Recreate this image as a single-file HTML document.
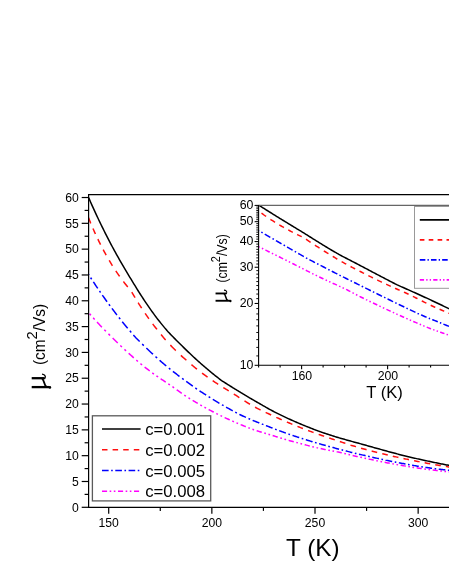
<!DOCTYPE html><html><head><meta charset="utf-8"><title>mobility</title>
<style>html,body{margin:0;padding:0;background:#fff;}svg{display:block;}text{font-family:"Liberation Sans",sans-serif;fill:#000;filter:grayscale(1);}</style></head><body>
<svg width="449" height="580" viewBox="0 0 449 580">
<rect width="449" height="580" fill="#fff"/>
<g fill="none" stroke-width="1.50" stroke-linejoin="round">
<path d="M89.52,313.72 L89.63,313.84 L90.66,315.01 L90.94,315.32 M93.22,317.87 L93.76,318.47 L94.66,319.47 M97.04,322.07 L97.88,322.99 L98.92,324.10 L99.95,325.19 L100.98,326.26 L101.85,327.17 M104.35,329.72 L105.10,330.48 L105.93,331.32 M108.46,333.87 L109.23,334.63 L110.06,335.46 M112.66,338.02 L113.36,338.70 L114.39,339.72 L115.42,340.74 L116.45,341.74 L117.48,342.75 L117.76,343.02 M120.31,345.47 L120.58,345.72 L121.61,346.70 L121.91,346.99 M124.46,349.38 L124.70,349.60 L125.73,350.56 L126.06,350.86 M128.66,353.24 L128.83,353.39 L129.86,354.32 L130.89,355.25 L131.92,356.18 L132.95,357.11 L133.76,357.84 M136.31,360.11 L137.08,360.78 L137.91,361.50 M140.46,363.65 L141.21,364.25 L142.06,364.95 M144.66,367.03 L145.33,367.56 L146.36,368.37 L147.40,369.17 L148.43,369.96 L149.46,370.75 L149.76,370.98 M152.31,372.89 L152.55,373.07 L153.58,373.82 L153.91,374.06 M156.46,375.87 L156.68,376.02 L157.71,376.73 L158.06,376.97 M160.66,378.74 L160.81,378.83 L161.84,379.51 L162.87,380.20 L163.90,380.91 L164.93,381.62 L165.76,382.19 M168.31,383.91 L169.06,384.41 L169.91,384.98 M172.46,386.71 L173.18,387.23 L174.06,387.88 M176.66,389.77 L177.31,390.23 L178.34,390.95 L179.37,391.67 L180.40,392.39 L181.44,393.11 L181.76,393.33 M184.31,395.11 L184.53,395.26 L185.56,395.94 L185.91,396.16 M188.46,397.79 L188.66,397.91 L189.69,398.56 L190.06,398.80 M192.66,400.39 L192.78,400.47 L193.81,401.09 L194.84,401.71 L195.88,402.32 L196.91,402.93 L197.76,403.43 M200.31,404.90 L201.03,405.31 L201.91,405.81 M204.46,407.24 L205.16,407.62 L206.06,408.12 M208.66,409.52 L209.29,409.86 L210.32,410.40 L211.35,410.95 L212.38,411.49 L213.41,412.02 L213.76,412.20 M216.31,413.50 L216.51,413.60 L217.54,414.12 L217.91,414.30 M220.46,415.56 L220.63,415.64 L221.66,416.14 L222.06,416.33 M224.66,417.57 L224.76,417.61 L225.79,418.10 L226.82,418.57 L227.85,419.05 L228.88,419.52 L229.76,419.92 M232.31,421.06 L233.01,421.37 L233.91,421.77 M236.46,422.87 L237.14,423.16 L238.06,423.55 M240.66,424.64 L241.26,424.89 L242.29,425.31 L243.33,425.73 L244.36,426.15 L245.39,426.56 L245.76,426.71 M248.31,427.70 L248.48,427.77 L249.51,428.16 L249.91,428.31 M252.46,429.27 L252.61,429.32 L253.64,429.69 L254.06,429.83 M256.66,430.68 L256.73,430.70 L257.77,431.02 L258.80,431.35 L259.83,431.67 L260.86,432.00 L261.76,432.27 M264.31,433.04 L264.99,433.24 L265.91,433.52 M268.46,434.28 L269.11,434.47 L270.06,434.76 M272.66,435.57 L273.24,435.75 L274.27,436.07 L275.30,436.40 L276.33,436.71 L277.36,437.03 L277.76,437.15 M280.31,437.93 L280.46,437.97 L281.49,438.28 L281.91,438.40 M284.46,439.15 L284.59,439.19 L285.62,439.49 L286.06,439.62 M288.66,440.36 L288.71,440.37 L289.74,440.66 L290.77,440.95 L291.81,441.23 L292.84,441.52 L293.76,441.77 M296.31,442.46 L296.96,442.64 L297.91,442.89 M300.46,443.58 L301.09,443.75 L302.06,444.01 M304.66,444.70 L305.22,444.84 L306.25,445.11 L307.28,445.38 L308.31,445.64 L309.34,445.91 L309.76,446.01 M312.31,446.64 L312.44,446.67 L313.47,446.92 L313.91,447.02 M316.46,447.61 L316.56,447.64 L317.59,447.87 L318.06,447.97 M320.66,448.54 L320.69,448.55 L321.72,448.77 L322.75,448.99 L323.78,449.21 L324.81,449.43 L325.76,449.63 M328.31,450.15 L328.94,450.28 L329.91,450.47 M332.46,450.98 L333.07,451.09 L334.06,451.29 M336.66,451.78 L337.19,451.88 L338.22,452.07 L339.25,452.26 L340.29,452.49 L341.32,452.75 L341.76,452.86 M344.31,453.47 L344.41,453.49 L345.44,453.73 L345.91,453.84 M348.46,454.44 L348.54,454.45 L349.57,454.70 L350.06,454.82 M352.66,455.44 L353.70,455.69 L354.73,455.93 L355.76,456.17 L356.79,456.41 L357.76,456.63 M360.31,457.21 L360.92,457.35 L361.91,457.57 M364.46,458.13 L365.04,458.26 L366.06,458.48 M368.66,459.04 L369.17,459.15 L370.20,459.37 L371.23,459.58 L372.26,459.80 L373.29,460.01 L373.76,460.11 M376.31,460.64 L376.39,460.65 L377.42,460.87 L377.91,460.97 M380.46,461.48 L380.51,461.49 L381.55,461.70 L382.06,461.80 M384.66,462.32 L385.67,462.51 L386.70,462.71 L387.74,462.91 L388.77,463.11 L389.76,463.30 M392.31,463.77 L392.89,463.88 L393.91,464.06 M396.46,464.52 L397.02,464.62 L398.05,464.81 L398.06,464.81 M400.66,465.27 L401.14,465.35 L402.18,465.53 L403.21,465.71 L404.24,465.88 L405.27,466.06 L405.76,466.14 M408.31,466.56 L408.37,466.57 L409.40,466.74 L409.91,466.82 M412.46,467.22 L412.49,467.23 L413.52,467.39 L414.06,467.47 M416.66,467.86 L417.65,468.00 L418.68,468.15 L419.71,468.30 L420.74,468.45 L421.76,468.59 M424.31,468.94 L424.87,469.02 L425.90,469.16 L425.91,469.16 M428.46,469.50 L429.00,469.57 L430.03,469.70 L430.06,469.71 M432.66,470.04 L433.12,470.10 L434.15,470.23 L435.18,470.36 L436.22,470.48 L437.25,470.61 L437.76,470.67 M440.31,470.97 L440.34,470.97 L441.37,471.09 L441.91,471.15 M444.46,471.42 L444.47,471.42 L445.50,471.52 L446.06,471.58 M448.66,471.84 L449.62,471.94 L450.66,472.06 L451.69,472.18" stroke="#ff00ff" stroke-linecap="butt"/>
<path d="M88.60,274.50 L89.00,275.13 M90.63,277.66 L90.66,277.72 L91.67,279.26 M93.32,281.79 L93.76,282.46 L94.79,284.01 L95.82,285.56 L96.85,287.10 L97.75,288.42 M99.47,290.95 L99.95,291.64 L100.58,292.55 M102.34,295.08 L103.04,296.09 L104.07,297.55 L105.10,299.00 L106.14,300.45 L107.05,301.71 M108.89,304.24 L109.23,304.71 L110.06,305.84 M111.93,308.37 L112.32,308.90 L113.36,310.27 L114.39,311.64 L115.42,312.99 L116.45,314.34 L116.96,315.00 M118.94,317.53 L119.55,318.30 L120.20,319.13 M122.23,321.66 L122.64,322.17 L123.67,323.44 L124.70,324.70 L125.73,325.95 L126.77,327.19 L127.69,328.29 M129.83,330.82 L129.86,330.86 L130.89,332.07 L131.19,332.42 M133.38,334.95 L133.99,335.64 L135.02,336.81 L136.05,337.92 L137.08,338.97 L138.11,340.01 L139.14,341.03 L139.68,341.56 M142.21,344.06 L142.24,344.08 L143.27,345.09 L143.81,345.62 M146.34,348.06 L146.36,348.08 L147.40,349.07 L148.43,350.04 L149.46,351.02 L150.49,351.98 L151.52,352.94 L152.55,353.89 L152.97,354.28 M155.50,356.59 L155.65,356.72 L156.68,357.66 L157.10,358.04 M159.63,360.29 L159.77,360.42 L160.81,361.33 L161.84,362.23 L162.87,363.12 L163.90,364.00 L164.93,364.87 L165.96,365.73 L166.26,365.98 M168.79,368.06 L169.06,368.27 L170.09,369.10 L170.39,369.35 M172.92,371.36 L173.18,371.57 L174.21,372.38 L175.25,373.18 L176.28,373.97 L177.31,374.75 L178.34,375.53 L179.37,376.31 L179.55,376.45 M182.08,378.34 L182.47,378.63 L183.50,379.40 L183.68,379.54 M186.21,381.42 L186.59,381.70 L187.62,382.45 L188.66,383.20 L189.69,383.95 L190.72,384.69 L191.75,385.42 L192.78,386.15 L192.84,386.19 M195.37,387.95 L195.88,388.30 L196.91,389.01 L196.97,389.05 M199.50,390.76 L200.00,391.10 L201.03,391.79 L202.06,392.47 L203.10,393.15 L204.13,393.82 L205.16,394.49 L206.13,395.12 M208.66,396.73 L209.29,397.13 L210.26,397.74 M212.79,399.32 L213.41,399.70 L214.44,400.33 L215.47,400.95 L216.51,401.58 L217.54,402.19 L218.57,402.81 L219.42,403.31 M221.95,404.79 L222.70,405.22 L223.55,405.72 M226.08,407.15 L226.82,407.57 L227.85,408.14 L228.88,408.71 L229.92,409.28 L230.95,409.84 L231.98,410.41 L232.71,410.80 M235.24,412.15 L236.10,412.61 L236.84,413.00 M239.37,414.31 L240.23,414.75 L241.26,415.25 L242.29,415.73 L243.33,416.20 L244.36,416.67 L245.39,417.14 L246.00,417.41 M248.53,418.54 L249.51,418.97 L250.13,419.24 M252.66,420.34 L253.64,420.74 L254.67,421.15 L255.70,421.55 L256.73,421.94 L257.77,422.34 L258.80,422.74 L259.29,422.94 M261.82,423.95 L261.89,423.98 L262.92,424.39 L263.42,424.59 M265.95,425.59 L266.02,425.61 L267.05,426.02 L268.08,426.42 L269.11,426.82 L270.14,427.22 L271.18,427.62 L272.21,428.01 L272.58,428.16 M275.11,429.12 L275.30,429.19 L276.33,429.58 L276.71,429.72 M279.24,430.67 L279.43,430.74 L280.46,431.12 L281.49,431.50 L282.52,431.87 L283.55,432.25 L284.59,432.62 L285.62,432.99 L285.87,433.08 M288.40,433.98 L288.71,434.09 L289.74,434.45 L290.00,434.54 M292.53,435.41 L292.84,435.51 L293.87,435.86 L294.90,436.21 L295.93,436.55 L296.96,436.89 L297.99,437.23 L299.03,437.56 L299.16,437.61 M301.69,438.42 L302.12,438.55 L303.15,438.88 L303.29,438.92 M305.82,439.71 L306.25,439.84 L307.28,440.16 L308.31,440.47 L309.34,440.79 L310.37,441.10 L311.40,441.41 L312.44,441.72 L312.45,441.73 M314.98,442.48 L315.53,442.64 L316.56,442.94 L316.58,442.95 M319.11,443.69 L319.66,443.84 L320.69,444.14 L321.72,444.44 L322.75,444.73 L323.78,445.02 L324.81,445.31 L325.74,445.57 M328.27,446.27 L328.94,446.46 L329.87,446.71 M332.40,447.40 L333.07,447.58 L334.10,447.85 L335.13,448.13 L336.16,448.40 L337.19,448.67 L338.22,448.94 L339.03,449.15 M341.56,449.81 L342.35,450.02 L343.16,450.23 M345.69,450.90 L346.48,451.10 L347.51,451.37 L348.54,451.63 L349.57,451.89 L350.60,452.15 L351.63,452.41 L352.32,452.58 M354.85,453.20 L355.76,453.41 L356.45,453.58 M358.98,454.18 L359.88,454.40 L360.92,454.64 L361.95,454.88 L362.98,455.12 L364.01,455.35 L365.04,455.59 L365.61,455.72 M368.14,456.30 L369.17,456.53 L369.74,456.66 M372.27,457.22 L373.29,457.45 L374.33,457.68 L375.36,457.91 L376.39,458.14 L377.42,458.36 L378.45,458.59 L378.90,458.69 M381.43,459.24 L381.55,459.26 L382.58,459.49 L383.03,459.59 M385.56,460.12 L385.67,460.15 L386.70,460.36 L387.74,460.58 L388.77,460.79 L389.80,461.00 L390.83,461.21 L391.86,461.42 L392.19,461.49 M394.72,461.99 L394.96,462.03 L395.99,462.23 L396.32,462.30 M398.85,462.78 L399.08,462.83 L400.11,463.02 L401.14,463.22 L402.18,463.41 L403.21,463.61 L404.24,463.80 L405.27,463.99 L405.48,464.03 M408.01,464.48 L408.37,464.55 L409.40,464.73 L409.61,464.77 M412.14,465.22 L412.49,465.28 L413.52,465.45 L414.55,465.63 L415.59,465.81 L416.62,465.98 L417.65,466.15 L418.68,466.32 L418.77,466.33 M421.30,466.73 L421.77,466.80 L422.81,466.96 L422.90,466.97 M425.43,467.35 L425.90,467.41 L426.93,467.56 L427.96,467.71 L429.00,467.85 L430.03,467.99 L431.06,468.14 L432.06,468.27 M434.59,468.61 L435.18,468.69 L436.19,468.82 M438.72,469.15 L439.31,469.23 L440.34,469.36 L441.37,469.49 L442.40,469.61 L443.44,469.73 L444.47,469.85 L445.35,469.95 M447.88,470.23 L448.59,470.31 L449.48,470.42" stroke="#0000ff" stroke-linecap="butt"/>
<path d="M88.60,217.90 L89.63,220.46 L90.66,223.01 L90.83,223.40 M92.98,228.50 L93.76,230.29 L94.79,232.58 L95.44,234.00 M97.84,239.10 L97.88,239.19 L98.92,241.30 L99.95,243.38 L100.57,244.60 M103.22,249.70 L104.07,251.30 L105.10,253.20 L106.14,255.06 L106.22,255.20 M109.14,260.30 L109.23,260.46 L110.26,262.20 L111.29,263.90 L112.32,265.56 L112.48,265.80 M115.82,270.90 L116.45,271.84 L117.48,273.34 L118.51,274.81 L119.55,276.27 L119.64,276.40 M123.41,281.50 L123.67,281.85 L124.70,283.19 L125.73,284.51 L126.77,285.81 L127.73,287.00 M131.78,292.10 L131.92,292.31 L132.95,294.10 L133.99,295.86 L135.02,297.59 L135.02,297.60 M138.15,302.70 L139.14,304.28 L140.18,305.89 L141.21,307.49 L141.68,308.20 M145.09,313.30 L145.33,313.66 L146.36,315.15 L147.40,316.63 L148.43,318.08 L148.94,318.80 M152.69,323.90 L153.58,325.08 L154.62,326.43 L155.65,327.76 L156.68,329.08 L156.94,329.40 M161.06,334.50 L161.84,335.48 L162.87,336.78 L163.90,338.02 L164.93,339.19 L165.66,340.00 M170.37,345.10 L171.12,345.89 L172.15,346.96 L173.18,348.01 L174.21,349.05 L175.25,350.08 L175.77,350.59 M180.87,355.42 L181.44,355.93 L182.47,356.86 L183.50,357.75 L184.53,358.63 L185.56,359.54 L186.37,360.26 M191.47,364.66 L191.75,364.90 L192.78,365.76 L193.81,366.61 L194.84,367.46 L195.88,368.29 L196.91,369.12 L196.97,369.17 M202.07,373.13 L203.10,373.90 L204.13,374.66 L205.16,375.42 L206.19,376.17 L207.22,376.91 L207.57,377.15 M212.67,380.69 L213.41,381.19 L214.44,381.88 L215.47,382.57 L216.51,383.24 L217.54,383.91 L218.17,384.32 M223.27,387.53 L223.73,387.81 L224.76,388.45 L225.79,389.07 L226.82,389.70 L227.85,390.32 L228.77,390.86 M233.87,393.98 L234.04,394.10 L235.07,394.79 L236.10,395.48 L237.14,396.17 L238.17,396.85 L239.20,397.53 L239.37,397.64 M244.47,400.91 L245.39,401.49 L246.42,402.13 L247.45,402.76 L248.48,403.39 L249.51,404.00 L249.97,404.27 M255.07,407.17 L255.70,407.51 L256.73,408.05 L257.77,408.58 L258.80,409.09 L259.83,409.61 L260.57,409.98 M265.67,412.42 L266.02,412.58 L267.05,413.06 L268.08,413.54 L269.11,414.01 L270.14,414.49 L271.17,414.97 M276.27,417.32 L276.33,417.35 L277.36,417.82 L278.40,418.29 L279.43,418.75 L280.46,419.22 L281.49,419.67 L281.77,419.80 M286.87,422.02 L287.68,422.36 L288.71,422.80 L289.74,423.24 L290.77,423.67 L291.81,424.10 L292.37,424.33 M297.47,426.40 L297.99,426.61 L299.03,427.02 L300.06,427.42 L301.09,427.83 L302.12,428.23 L302.97,428.55 M308.07,430.49 L308.31,430.58 L309.34,430.96 L310.37,431.34 L311.40,431.72 L312.44,432.10 L313.47,432.47 L313.57,432.51 M318.67,434.34 L319.66,434.69 L320.69,435.06 L321.72,435.42 L322.75,435.78 L323.78,436.14 L324.17,436.27 M329.27,438.02 L329.97,438.26 L331.00,438.61 L332.03,438.95 L333.07,439.30 L334.10,439.64 L334.77,439.86 M339.87,441.53 L340.29,441.67 L341.32,442.01 L342.35,442.36 L343.38,442.72 L344.41,443.07 L345.37,443.40 M350.47,445.05 L350.60,445.10 L351.63,445.41 L352.66,445.72 L353.70,446.03 L354.73,446.34 L355.76,446.65 L355.97,446.71 M361.07,448.18 L361.95,448.43 L362.98,448.72 L364.01,449.00 L365.04,449.29 L366.07,449.57 L366.57,449.70 M371.67,451.04 L372.26,451.20 L373.29,451.46 L374.33,451.72 L375.36,451.98 L376.39,452.24 L377.17,452.44 M382.27,453.69 L382.58,453.76 L383.61,454.01 L384.64,454.26 L385.67,454.50 L386.70,454.75 L387.74,454.99 L387.77,455.00 M392.87,456.17 L392.89,456.18 L393.92,456.41 L394.96,456.65 L395.99,456.88 L397.02,457.11 L398.05,457.34 L398.37,457.41 M403.47,458.51 L404.24,458.68 L405.27,458.90 L406.30,459.12 L407.33,459.33 L408.37,459.55 L408.97,459.67 M414.07,460.71 L414.55,460.81 L415.59,461.02 L416.62,461.22 L417.65,461.43 L418.68,461.63 L419.57,461.80 M424.67,462.78 L424.87,462.82 L425.90,463.01 L426.93,463.21 L427.96,463.40 L429.00,463.59 L430.03,463.78 L430.17,463.80 M435.27,464.72 L436.22,464.89 L437.25,465.07 L438.28,465.25 L439.31,465.42 L440.34,465.60 L440.77,465.67 M445.87,466.50 L446.53,466.61 L447.56,466.77 L448.59,466.94 L449.62,467.11 L450.66,467.30 L451.37,467.42" stroke="#ff1010" stroke-linecap="butt"/>
<path d="M88.60,197.54 L89.63,199.91 L90.66,202.26 L91.69,204.59 L92.73,206.90 L93.76,209.17 L94.79,211.41 L95.82,213.64 L96.85,215.85 L97.88,218.03 L98.92,220.20 L99.95,222.35 L100.98,224.49 L102.01,226.60 L103.04,228.70 L104.07,230.77 L105.10,232.83 L106.14,234.88 L107.17,236.90 L108.20,238.91 L109.23,240.90 L110.26,242.86 L111.29,244.81 L112.32,246.74 L113.36,248.65 L114.39,250.54 L115.42,252.42 L116.45,254.28 L117.48,256.12 L118.51,257.95 L119.55,259.76 L120.58,261.56 L121.61,263.37 L122.64,265.16 L123.67,266.94 L124.70,268.70 L125.73,270.44 L126.77,272.17 L127.80,273.88 L128.83,275.59 L129.86,277.28 L130.89,278.97 L131.92,280.65 L132.95,282.33 L133.99,284.02 L135.02,285.71 L136.05,287.40 L137.08,289.08 L138.11,290.75 L139.14,292.40 L140.18,294.02 L141.21,295.62 L142.24,297.20 L143.27,298.76 L144.30,300.32 L145.33,301.86 L146.36,303.39 L147.40,304.90 L148.43,306.40 L149.46,307.88 L150.49,309.35 L151.52,310.81 L152.55,312.25 L153.58,313.67 L154.62,315.08 L155.65,316.47 L156.68,317.84 L157.71,319.19 L158.74,320.52 L159.77,321.82 L160.81,323.10 L161.84,324.37 L162.87,325.63 L163.90,326.87 L164.93,328.11 L165.96,329.33 L166.99,330.56 L168.03,331.72 L169.06,332.80 L170.09,333.88 L171.12,334.95 L172.15,336.01 L173.18,337.06 L174.21,338.10 L175.25,339.14 L176.28,340.18 L177.31,341.21 L178.34,342.24 L179.37,343.26 L180.40,344.28 L181.44,345.31 L182.47,346.33 L183.50,347.34 L184.53,348.35 L185.56,349.36 L186.59,350.36 L187.62,351.35 L188.66,352.34 L189.69,353.33 L190.72,354.30 L191.75,355.28 L192.78,356.24 L193.81,357.20 L194.84,358.15 L195.88,359.10 L196.91,360.04 L197.94,360.97 L198.97,361.90 L200.00,362.81 L201.03,363.73 L202.06,364.63 L203.10,365.53 L204.13,366.42 L205.16,367.30 L206.19,368.18 L207.22,369.05 L208.25,369.92 L209.29,370.79 L210.32,371.65 L211.35,372.50 L212.38,373.34 L213.41,374.18 L214.44,375.01 L215.47,375.84 L216.51,376.65 L217.54,377.46 L218.57,378.26 L219.60,379.05 L220.63,379.84 L221.66,380.58 L222.70,381.27 L223.73,381.94 L224.76,382.60 L225.79,383.25 L226.82,383.90 L227.85,384.55 L228.88,385.20 L229.92,385.85 L230.95,386.50 L231.98,387.15 L233.01,387.79 L234.04,388.43 L235.07,389.07 L236.10,389.70 L237.14,390.33 L238.17,390.96 L239.20,391.59 L240.23,392.21 L241.26,392.84 L242.29,393.46 L243.33,394.08 L244.36,394.70 L245.39,395.32 L246.42,395.94 L247.45,396.56 L248.48,397.17 L249.51,397.79 L250.55,398.40 L251.58,399.01 L252.61,399.61 L253.64,400.21 L254.67,400.82 L255.70,401.41 L256.73,402.01 L257.77,402.60 L258.80,403.19 L259.83,403.77 L260.86,404.35 L261.89,404.94 L262.92,405.54 L263.96,406.13 L264.99,406.72 L266.02,407.31 L267.05,407.90 L268.08,408.48 L269.11,409.06 L270.14,409.63 L271.18,410.18 L272.21,410.73 L273.24,411.26 L274.27,411.80 L275.30,412.32 L276.33,412.85 L277.36,413.37 L278.40,413.88 L279.43,414.40 L280.46,414.90 L281.49,415.41 L282.52,415.91 L283.55,416.40 L284.59,416.90 L285.62,417.38 L286.65,417.87 L287.68,418.35 L288.71,418.82 L289.74,419.29 L290.77,419.76 L291.81,420.22 L292.84,420.68 L293.87,421.13 L294.90,421.58 L295.93,422.03 L296.96,422.47 L297.99,422.91 L299.03,423.35 L300.06,423.78 L301.09,424.21 L302.12,424.64 L303.15,425.07 L304.18,425.49 L305.22,425.91 L306.25,426.33 L307.28,426.75 L308.31,427.16 L309.34,427.57 L310.37,427.98 L311.40,428.39 L312.44,428.79 L313.47,429.19 L314.50,429.59 L315.53,429.98 L316.56,430.38 L317.59,430.77 L318.62,431.15 L319.66,431.52 L320.69,431.89 L321.72,432.25 L322.75,432.61 L323.78,432.96 L324.81,433.31 L325.85,433.65 L326.88,433.99 L327.91,434.33 L328.94,434.66 L329.97,435.00 L331.00,435.33 L332.03,435.66 L333.07,435.99 L334.10,436.31 L335.13,436.63 L336.16,436.95 L337.19,437.26 L338.22,437.57 L339.25,437.87 L340.29,438.17 L341.32,438.47 L342.35,438.76 L343.38,439.05 L344.41,439.34 L345.44,439.63 L346.48,439.92 L347.51,440.21 L348.54,440.50 L349.57,440.79 L350.60,441.08 L351.63,441.37 L352.66,441.65 L353.70,441.93 L354.73,442.21 L355.76,442.49 L356.79,442.77 L357.82,443.04 L358.85,443.32 L359.88,443.60 L360.92,443.88 L361.95,444.17 L362.98,444.46 L364.01,444.75 L365.04,445.04 L366.07,445.34 L367.11,445.63 L368.14,445.93 L369.17,446.22 L370.20,446.51 L371.23,446.80 L372.26,447.09 L373.29,447.38 L374.33,447.67 L375.36,447.96 L376.39,448.24 L377.42,448.52 L378.45,448.80 L379.48,449.09 L380.51,449.37 L381.55,449.65 L382.58,449.93 L383.61,450.22 L384.64,450.51 L385.67,450.80 L386.70,451.09 L387.74,451.38 L388.77,451.66 L389.80,451.95 L390.83,452.23 L391.86,452.51 L392.89,452.79 L393.92,453.06 L394.96,453.33 L395.99,453.60 L397.02,453.87 L398.05,454.14 L399.08,454.40 L400.11,454.66 L401.14,454.92 L402.18,455.18 L403.21,455.44 L404.24,455.70 L405.27,455.95 L406.30,456.20 L407.33,456.45 L408.37,456.70 L409.40,456.95 L410.43,457.19 L411.46,457.44 L412.49,457.68 L413.52,457.92 L414.55,458.16 L415.59,458.39 L416.62,458.63 L417.65,458.86 L418.68,459.09 L419.71,459.32 L420.74,459.55 L421.77,459.78 L422.81,460.01 L423.84,460.23 L424.87,460.45 L425.90,460.67 L426.93,460.89 L427.96,461.11 L429.00,461.33 L430.03,461.55 L431.06,461.76 L432.09,461.98 L433.12,462.20 L434.15,462.42 L435.18,462.63 L436.22,462.85 L437.25,463.06 L438.28,463.27 L439.31,463.48 L440.34,463.69 L441.37,463.89 L442.40,464.09 L443.44,464.29 L444.47,464.49 L445.50,464.69 L446.53,464.89 L447.56,465.08 L448.59,465.28 L449.62,465.46 L450.66,465.65 L451.69,465.83" stroke="#000000"/>
</g>
<g stroke="#000" stroke-width="1.2" fill="none">
<path d="M88.60,194.00 V507.30 H460"/>
<path d="M88.00,194.60 H460"/>
<path d="M88.60,507.30 H81.70"/>
<path d="M88.60,481.49 H81.70"/>
<path d="M88.60,455.67 H81.70"/>
<path d="M88.60,429.86 H81.70"/>
<path d="M88.60,404.04 H81.70"/>
<path d="M88.60,378.23 H81.70"/>
<path d="M88.60,352.41 H81.70"/>
<path d="M88.60,326.60 H81.70"/>
<path d="M88.60,300.78 H81.70"/>
<path d="M88.60,274.97 H81.70"/>
<path d="M88.60,249.15 H81.70"/>
<path d="M88.60,223.33 H81.70"/>
<path d="M88.60,197.52 H81.70"/>
<path d="M88.60,494.39 H84.60"/>
<path d="M88.60,468.58 H84.60"/>
<path d="M88.60,442.76 H84.60"/>
<path d="M88.60,416.95 H84.60"/>
<path d="M88.60,391.13 H84.60"/>
<path d="M88.60,365.32 H84.60"/>
<path d="M88.60,339.50 H84.60"/>
<path d="M88.60,313.69 H84.60"/>
<path d="M88.60,287.87 H84.60"/>
<path d="M88.60,262.06 H84.60"/>
<path d="M88.60,236.24 H84.60"/>
<path d="M88.60,210.43 H84.60"/>
<path d="M108.70,507.30 V513.70"/>
<path d="M160.28,507.30 V510.90"/>
<path d="M211.85,507.30 V513.70"/>
<path d="M263.43,507.30 V510.90"/>
<path d="M315.00,507.30 V513.70"/>
<path d="M366.57,507.30 V510.90"/>
<path d="M418.15,507.30 V513.70"/>
</g>
<g font-size="12.2px">
<text x="78.8" y="511.50" text-anchor="end">0</text>
<text x="78.8" y="485.69" text-anchor="end">5</text>
<text x="78.8" y="459.87" text-anchor="end">10</text>
<text x="78.8" y="434.06" text-anchor="end">15</text>
<text x="78.8" y="408.24" text-anchor="end">20</text>
<text x="78.8" y="382.43" text-anchor="end">25</text>
<text x="78.8" y="356.61" text-anchor="end">30</text>
<text x="78.8" y="330.80" text-anchor="end">35</text>
<text x="78.8" y="304.98" text-anchor="end">40</text>
<text x="78.8" y="279.17" text-anchor="end">45</text>
<text x="78.8" y="253.35" text-anchor="end">50</text>
<text x="78.8" y="227.53" text-anchor="end">55</text>
<text x="78.8" y="201.72" text-anchor="end">60</text>
<text x="108.70" y="527.4" text-anchor="middle">150</text>
<text x="211.85" y="527.4" text-anchor="middle">200</text>
<text x="315.00" y="527.4" text-anchor="middle">250</text>
<text x="418.15" y="527.4" text-anchor="middle">300</text>
</g>
<text x="312.8" y="555.7" text-anchor="middle" font-size="24.3px">T (K)</text>
<text transform="translate(45.3,365.1) rotate(-90) scale(0.958,1)" font-size="16.1px"><tspan>(cm</tspan><tspan dy="-8.7" font-size="15.3px">2</tspan><tspan dy="8.7">/Vs)</tspan></text>
<g transform="translate(45.3,390.2)"><g fill="none" stroke="#000" stroke-linecap="butt"><path d="M-13.6,-3.1 H4.2" stroke-width="2.3"/><ellipse cx="4.6" cy="-2.8" rx="1.3" ry="1.45" fill="#000" stroke="none"/><path d="M-13.6,-12.0 H-0.6" stroke-width="2.3"/><path d="M-3.4,-11.6 C-0.6,-10.4 -2.0,-5.6 1.4,-3.2" stroke-width="1.8"/><path d="M-3.3,-16.1 C-1.2,-15.9 0.6,-14.6 -0.1,-12.6 L-0.8,-11.2" stroke-width="1.3"/></g></g>
<g transform="translate(226.7,303.3) scale(0.82)"><g fill="none" stroke="#000" stroke-linecap="butt"><path d="M-13.6,-3.1 H4.2" stroke-width="2.3"/><ellipse cx="4.6" cy="-2.8" rx="1.3" ry="1.45" fill="#000" stroke="none"/><path d="M-13.6,-12.0 H-0.6" stroke-width="2.3"/><path d="M-3.4,-11.6 C-0.6,-10.4 -2.0,-5.6 1.4,-3.2" stroke-width="1.8"/><path d="M-3.3,-16.1 C-1.2,-15.9 0.6,-14.6 -0.1,-12.6 L-0.8,-11.2" stroke-width="1.3"/></g></g>
<rect x="92.4" y="415.8" width="118.3" height="85.1" fill="#fff" stroke="#5a5a5a" stroke-width="1.3"/>
<g fill="none" stroke-width="1.5">
<path d="M102,429.00 H140.6" stroke="#000000"/>
<path d="M102,449.80 H140.6" stroke="#ff1010" stroke-dasharray="5.50 5.10"/>
<path d="M102,470.60 H140.6" stroke="#0000ff" stroke-dasharray="6.63 2.53 1.60 2.53"/>
<path d="M102,491.30 H140.6" stroke="#ff00ff" stroke-dasharray="5.10 2.55 1.60 2.55 1.60 2.60"/>
</g>
<g font-size="16.7px">
<text x="145.2" y="434.90">c=0.001</text>
<text x="145.2" y="455.70">c=0.002</text>
<text x="145.2" y="476.50">c=0.005</text>
<text x="145.2" y="497.20">c=0.008</text>
</g>
<rect x="258.60" y="205.40" width="200" height="159.90" fill="#fff"/>
<clipPath id="ic"><rect x="257.60" y="204.40" width="200" height="160.90"/></clipPath>
<g fill="none" stroke-width="1.50" stroke-linejoin="round" clip-path="url(#ic)">
<path d="M258.60,246.88 L259.68,247.14 L259.77,247.19 M261.91,248.26 L262.90,248.76 L263.26,248.94 M265.44,250.04 L266.12,250.38 L267.20,250.92 L268.28,251.46 L269.35,252.00 L269.72,252.19 M271.87,253.25 L272.58,253.60 L273.21,253.91 M275.35,254.95 L275.80,255.17 L276.70,255.61 M278.88,256.69 L279.03,256.76 L280.10,257.29 L281.18,257.82 L282.25,258.35 L283.16,258.80 M285.31,259.87 L285.48,259.96 L286.55,260.50 L286.65,260.55 M288.79,261.63 L289.78,262.12 L290.14,262.31 M292.32,263.41 L293.00,263.75 L294.08,264.29 L295.15,264.84 L296.23,265.38 L296.60,265.57 M298.75,266.65 L299.45,267.01 L300.09,267.33 M302.23,268.41 L302.68,268.63 L303.58,269.09 M305.76,270.21 L305.90,270.28 L306.98,270.83 L308.05,271.39 L309.12,271.94 L310.04,272.40 M312.19,273.48 L312.35,273.56 L313.43,274.09 L313.53,274.14 M315.67,275.19 L316.65,275.66 L317.02,275.84 M319.20,276.89 L319.88,277.22 L320.95,277.73 L322.03,278.24 L323.10,278.76 L323.48,278.94 M325.63,279.95 L326.33,280.28 L326.97,280.58 M329.11,281.57 L329.55,281.77 L330.46,282.18 M332.64,283.16 L332.78,283.23 L333.85,283.71 L334.93,284.18 L336.00,284.66 L336.92,285.08 M339.07,286.08 L339.23,286.16 L340.30,286.66 L340.41,286.71 M342.55,287.70 L343.53,288.16 L343.90,288.33 M346.08,289.37 L346.75,289.70 L347.83,290.26 L348.90,290.83 L349.98,291.40 L350.36,291.60 M352.51,292.71 L353.20,293.07 L353.85,293.40 M355.99,294.51 L356.43,294.74 L357.34,295.21 M359.52,296.36 L359.65,296.43 L360.73,296.97 L361.80,297.50 L362.88,298.03 L363.80,298.49 M365.95,299.54 L366.10,299.62 L367.18,300.14 L367.29,300.20 M369.43,301.24 L370.40,301.71 L370.78,301.89 M372.96,302.94 L373.62,303.26 L374.70,303.78 L375.78,304.29 L376.85,304.80 L377.24,304.99 M379.39,306.01 L380.08,306.34 L380.73,306.65 M382.87,307.66 L383.30,307.86 L384.22,308.29 M386.40,309.31 L386.53,309.37 L387.60,309.87 L388.68,310.37 L389.75,310.87 L390.68,311.30 M392.83,312.29 L392.98,312.36 L394.05,312.85 L394.17,312.91 M396.31,313.88 L397.27,314.32 L397.66,314.49 M399.84,315.48 L400.50,315.78 L401.58,316.26 L402.65,316.74 L403.73,317.22 L404.12,317.40 M406.27,318.35 L406.95,318.65 L407.61,318.94 M409.75,319.89 L410.18,320.07 L411.10,320.48 M413.28,321.43 L413.40,321.48 L414.48,321.95 L415.55,322.41 L416.62,322.88 L417.56,323.28 M419.71,324.20 L419.85,324.26 L420.93,324.71 L421.05,324.77 M423.19,325.67 L424.15,326.07 L424.54,326.23 M426.72,327.14 L427.38,327.41 L428.45,327.85 L429.52,328.29 L430.60,328.71 L431.00,328.87 M433.15,329.66 L433.83,329.91 L434.49,330.14 M436.63,330.90 L437.05,331.04 L437.98,331.37 M440.16,332.14 L440.27,332.18 L441.35,332.56 L442.43,332.93 L443.50,333.30 L444.44,333.62 M446.59,334.37 L446.73,334.41 L447.80,334.80 L447.93,334.84 M450.07,335.62 L451.02,335.98 L451.42,336.13 M453.60,336.95 L454.25,337.19 L455.33,337.60 L456.40,338.00 L457.48,338.40 L457.88,338.55 M460.03,339.34 L460.70,339.59 L461.37,339.84 M463.51,340.62 L463.93,340.77 L464.86,341.11 M467.04,341.91 L467.15,341.95 L468.23,342.34 L469.30,342.72 L470.38,343.11 L471.32,343.45 M473.47,344.21 L473.60,344.26 L474.68,344.64 L474.81,344.69 M476.95,345.45 L477.90,345.79 L478.30,345.94 M480.48,346.73 L481.12,346.96 L482.20,347.35 L483.27,347.74 L484.35,348.12 L484.76,348.27 M486.91,349.04 L487.58,349.28 L488.25,349.51 M490.39,350.27 L490.80,350.41 L491.74,350.73 M493.92,351.47 L494.02,351.51" stroke="#ff00ff" stroke-linecap="butt"/>
<path d="M258.60,230.90 L259.17,231.06 M261.29,232.13 L261.83,232.44 L262.64,232.91 M264.76,234.14 L265.05,234.30 L266.12,234.92 L267.20,235.54 L268.28,236.16 L269.35,236.78 L270.33,237.35 M272.46,238.58 L272.58,238.64 L273.65,239.26 L273.80,239.35 M275.93,240.58 L276.88,241.12 L277.95,241.74 L279.03,242.36 L280.10,242.98 L281.18,243.60 L281.50,243.79 M283.62,245.02 L284.40,245.47 L284.97,245.79 M287.09,247.02 L287.62,247.33 L288.70,247.95 L289.78,248.57 L290.85,249.18 L291.93,249.80 L292.66,250.22 M294.79,251.43 L295.15,251.64 L296.13,252.20 M298.25,253.41 L298.38,253.48 L299.45,254.09 L300.53,254.71 L301.60,255.32 L302.68,255.93 L303.75,256.55 L303.82,256.59 M305.95,257.80 L306.98,258.38 L307.29,258.56 M309.42,259.70 L310.20,260.10 L311.28,260.65 L312.35,261.20 L313.43,261.75 L314.50,262.30 L314.99,262.55 M317.11,263.65 L317.73,263.96 L318.46,264.34 M320.58,265.43 L320.95,265.62 L322.03,266.18 L323.10,266.73 L324.18,267.28 L325.25,267.84 L326.15,268.30 M328.28,269.39 L328.48,269.50 L329.55,270.05 L329.62,270.09 M331.75,271.18 L332.78,271.71 L333.85,272.27 L334.93,272.82 L336.00,273.38 L337.08,273.92 L337.31,274.04 M339.44,275.12 L340.30,275.55 L340.78,275.79 M342.91,276.86 L343.53,277.16 L344.60,277.70 L345.68,278.23 L346.75,278.77 L347.83,279.30 L348.48,279.63 M350.60,280.68 L351.05,280.89 L351.95,281.33 M354.07,282.38 L354.28,282.47 L355.35,283.00 L356.43,283.54 L357.50,284.07 L358.58,284.61 L359.64,285.14 M361.77,286.21 L361.80,286.23 L362.88,286.77 L363.11,286.88 M365.24,287.95 L366.10,288.38 L367.18,288.91 L368.25,289.45 L369.33,289.98 L370.40,290.51 L370.81,290.71 M372.93,291.76 L373.62,292.11 L374.27,292.43 M376.40,293.47 L376.85,293.70 L377.93,294.23 L379.00,294.75 L380.08,295.28 L381.15,295.81 L381.97,296.21 M384.09,297.26 L384.38,297.39 L385.44,297.92 M387.56,298.96 L387.60,298.97 L388.68,299.50 L389.75,300.03 L390.83,300.55 L391.90,301.07 L392.98,301.60 L393.13,301.67 M395.26,302.71 L396.20,303.17 L396.60,303.36 M398.73,304.39 L399.43,304.73 L400.50,305.25 L401.58,305.77 L402.65,306.28 L403.73,306.80 L404.30,307.07 M406.42,308.09 L406.95,308.35 L407.77,308.74 M409.89,309.75 L410.18,309.89 L411.25,310.40 L412.33,310.92 L413.40,311.43 L414.48,311.94 L415.46,312.41 M417.58,313.40 L417.70,313.46 L418.77,313.93 L418.93,314.00 M421.05,314.91 L422.00,315.31 L423.08,315.77 L424.15,316.23 L425.23,316.69 L426.30,317.15 L426.62,317.29 M428.75,318.19 L429.52,318.52 L430.09,318.75 M432.22,319.61 L432.75,319.82 L433.83,320.23 L434.90,320.64 L435.98,321.06 L437.05,321.49 L437.79,321.79 M439.91,322.66 L440.27,322.81 L441.26,323.21 M443.38,324.09 L443.50,324.14 L444.58,324.58 L445.65,325.02 L446.73,325.46 L447.80,325.91 L448.88,326.35 L448.95,326.38 M451.08,327.26 L452.10,327.69 L452.42,327.82 M454.54,328.70 L455.33,329.02 L456.40,329.47 L457.48,329.92 L458.55,330.36 L459.62,330.81 L460.11,331.01 M462.24,331.89 L462.85,332.14 L463.58,332.44 M465.71,333.32 L466.08,333.47 L467.15,333.91 L468.23,334.35 L469.30,334.79 L470.38,335.23 L471.28,335.60 M473.40,336.46 L473.60,336.54 L474.68,336.97 L474.75,337.00 M476.87,337.85 L477.90,338.26 L478.98,338.69 L480.05,339.11 L481.12,339.54 L482.20,339.96 L482.44,340.06 M484.57,340.89 L485.43,341.23 L485.91,341.42 M488.04,342.25 L488.65,342.49 L489.73,342.91 L490.80,343.33 L491.88,343.75 L492.95,344.17 L493.60,344.42" stroke="#0000ff" stroke-linecap="butt"/>
<path d="M261.50,213.21 L261.83,213.44 L262.90,214.22 L263.98,214.99 L265.05,215.74 L266.12,216.47 M270.41,219.33 L270.43,219.34 L271.50,220.03 L272.58,220.72 L273.65,221.40 L274.73,222.07 L275.03,222.26 M279.31,224.87 L280.10,225.34 L281.18,225.98 L282.25,226.60 L283.33,227.22 L283.93,227.56 M288.22,229.90 L288.70,230.16 L289.78,230.73 L290.85,231.29 L291.93,231.85 L292.84,232.31 M297.12,234.46 L297.30,234.55 L298.38,235.07 L299.45,235.59 L300.53,236.10 L301.60,236.61 L301.74,236.68 M306.02,239.19 L306.98,239.84 L308.05,240.57 L309.12,241.30 L310.20,242.02 L310.64,242.32 M314.93,245.16 L315.58,245.58 L316.65,246.28 L317.73,246.98 L318.80,247.67 L319.55,248.15 M323.83,250.86 L324.18,251.08 L325.25,251.75 L326.33,252.42 L327.40,253.08 L328.45,253.73 M332.74,256.33 L332.78,256.35 L333.85,257.00 L334.93,257.66 L336.00,258.33 L337.08,259.00 L337.36,259.16 M341.64,261.62 L342.45,262.08 L343.53,262.68 L344.60,263.28 L345.68,263.87 L346.26,264.19 M350.54,266.51 L351.05,266.78 L352.12,267.35 L353.20,267.91 L354.28,268.48 L355.16,268.93 M359.45,271.08 L359.65,271.18 L360.73,271.74 L361.80,272.29 L362.88,272.84 L363.95,273.39 L364.07,273.45 M368.35,275.62 L369.33,276.11 L370.40,276.64 L371.48,277.18 L372.55,277.71 L372.97,277.92 M377.26,280.00 L377.93,280.32 L379.00,280.84 L380.08,281.35 L381.15,281.86 L381.88,282.20 M386.16,284.20 L386.53,284.37 L387.60,284.86 L388.68,285.36 L389.75,285.85 L390.78,286.32 M395.06,288.24 L395.12,288.27 L396.20,288.75 L397.27,289.23 L398.35,289.71 L399.43,290.18 L399.68,290.29 M403.97,292.18 L404.80,292.54 L405.88,293.01 L406.95,293.48 L408.02,293.95 L408.59,294.20 M412.87,296.34 L413.40,296.61 L414.48,297.16 L415.55,297.71 L416.62,298.26 L417.49,298.70 M421.78,300.88 L422.00,300.99 L423.08,301.53 L424.15,302.07 L425.23,302.61 L426.30,303.14 L426.40,303.19 M430.68,305.27 L431.68,305.75 L432.75,306.25 L433.83,306.74 L434.90,307.21 L435.30,307.39 M439.58,309.26 L440.27,309.55 L441.35,310.01 L442.43,310.47 L443.50,310.92 L444.20,311.22 M448.49,313.03 L448.88,313.20 L449.95,313.66 L451.02,314.13 L452.10,314.59 L453.11,315.03 M457.39,316.89 L457.48,316.93 L458.55,317.40 L459.62,317.86 L460.70,318.33 L461.77,318.79 L462.01,318.89 M466.30,320.74 L467.15,321.11 L468.23,321.57 L469.30,322.03 L470.38,322.49 L470.92,322.72 M475.20,324.54 L475.75,324.77 L476.83,325.23 L477.90,325.68 L478.98,326.13 L479.82,326.49 M484.10,328.28 L484.35,328.38 L485.43,328.83 L486.50,329.28 L487.58,329.73 L488.65,330.18 L488.72,330.21 M493.01,331.99 L494.02,332.41" stroke="#ff1010" stroke-linecap="butt"/>
<path d="M258.60,205.41 L259.68,205.74 L260.75,206.42 L261.83,207.11 L262.90,207.79 L263.98,208.47 L265.05,209.15 L266.12,209.82 L267.20,210.50 L268.28,211.17 L269.35,211.84 L270.43,212.51 L271.50,213.18 L272.58,213.85 L273.65,214.52 L274.73,215.19 L275.80,215.86 L276.88,216.53 L277.95,217.19 L279.03,217.86 L280.10,218.52 L281.18,219.18 L282.25,219.84 L283.33,220.50 L284.40,221.16 L285.48,221.82 L286.55,222.47 L287.62,223.13 L288.70,223.78 L289.78,224.43 L290.85,225.08 L291.93,225.74 L293.00,226.39 L294.08,227.05 L295.15,227.71 L296.23,228.36 L297.30,229.02 L298.38,229.67 L299.45,230.32 L300.53,230.98 L301.60,231.63 L302.68,232.29 L303.75,232.95 L304.83,233.61 L305.90,234.28 L306.98,234.95 L308.05,235.63 L309.12,236.32 L310.20,237.00 L311.28,237.68 L312.35,238.36 L313.43,239.04 L314.50,239.71 L315.58,240.38 L316.65,241.04 L317.73,241.71 L318.80,242.38 L319.88,243.04 L320.95,243.71 L322.03,244.37 L323.10,245.03 L324.18,245.69 L325.25,246.35 L326.33,247.00 L327.40,247.65 L328.48,248.30 L329.55,248.95 L330.62,249.59 L331.70,250.23 L332.78,250.85 L333.85,251.48 L334.93,252.10 L336.00,252.71 L337.08,253.32 L338.15,253.94 L339.23,254.55 L340.30,255.17 L341.38,255.77 L342.45,256.34 L343.53,256.89 L344.60,257.44 L345.68,257.99 L346.75,258.54 L347.83,259.09 L348.90,259.64 L349.98,260.20 L351.05,260.75 L352.12,261.30 L353.20,261.85 L354.28,262.41 L355.35,262.97 L356.43,263.53 L357.50,264.10 L358.58,264.66 L359.65,265.23 L360.73,265.80 L361.80,266.36 L362.88,266.93 L363.95,267.50 L365.03,268.07 L366.10,268.64 L367.18,269.20 L368.25,269.77 L369.33,270.34 L370.40,270.91 L371.48,271.48 L372.55,272.04 L373.62,272.61 L374.70,273.18 L375.78,273.74 L376.85,274.31 L377.93,274.87 L379.00,275.43 L380.08,275.99 L381.15,276.56 L382.23,277.12 L383.30,277.68 L384.38,278.24 L385.45,278.81 L386.53,279.37 L387.60,279.93 L388.68,280.49 L389.75,281.05 L390.83,281.61 L391.90,282.17 L392.98,282.72 L394.05,283.28 L395.12,283.83 L396.20,284.37 L397.27,284.91 L398.35,285.41 L399.43,285.90 L400.50,286.37 L401.58,286.84 L402.65,287.31 L403.73,287.77 L404.80,288.25 L405.88,288.72 L406.95,289.20 L408.02,289.68 L409.10,290.16 L410.18,290.64 L411.25,291.12 L412.33,291.60 L413.40,292.08 L414.48,292.56 L415.55,293.04 L416.62,293.52 L417.70,294.01 L418.77,294.49 L419.85,294.98 L420.93,295.47 L422.00,295.96 L423.08,296.45 L424.15,296.95 L425.23,297.45 L426.30,297.94 L427.38,298.44 L428.45,298.94 L429.52,299.44 L430.60,299.94 L431.68,300.45 L432.75,300.95 L433.83,301.45 L434.90,301.95 L435.98,302.46 L437.05,302.96 L438.12,303.46 L439.20,303.97 L440.27,304.48 L441.35,305.00 L442.43,305.53 L443.50,306.05 L444.58,306.58 L445.65,307.11 L446.73,307.63 L447.80,308.15 L448.88,308.66 L449.95,309.17 L451.02,309.67 L452.10,310.16 L453.18,310.66 L454.25,311.15 L455.33,311.64 L456.40,312.14 L457.48,312.63 L458.55,313.12 L459.62,313.61 L460.70,314.09 L461.77,314.58 L462.85,315.07 L463.93,315.55 L465.00,316.03 L466.08,316.51 L467.15,316.99 L468.23,317.47 L469.30,317.94 L470.38,318.42 L471.45,318.89 L472.52,319.36 L473.60,319.82 L474.68,320.29 L475.75,320.75 L476.83,321.22 L477.90,321.68 L478.98,322.15 L480.05,322.61 L481.12,323.07 L482.20,323.53 L483.27,324.00 L484.35,324.46 L485.43,324.92 L486.50,325.38 L487.58,325.84 L488.65,326.30 L489.73,326.75 L490.80,327.21 L491.88,327.67 L492.95,328.13 L494.02,328.58" stroke="#000000"/>
</g>
<path d="M258.60,205.40 H460" stroke="#666" stroke-width="1.1" fill="none"/>
<g stroke="#000" stroke-width="1.1" fill="none">
<path d="M258.60,204.90 V365.30 H460"/>
<path d="M258.60,365.31 H254.60" stroke-width="1.05"/>
<path d="M258.60,355.91 H256.30" stroke-width="0.95"/>
<path d="M258.60,347.40 H256.30" stroke-width="0.95"/>
<path d="M258.60,339.64 H256.30" stroke-width="0.95"/>
<path d="M258.60,332.49 H256.30" stroke-width="0.95"/>
<path d="M258.60,325.88 H256.30" stroke-width="0.95"/>
<path d="M258.60,319.72 H256.30" stroke-width="0.95"/>
<path d="M258.60,313.96 H256.30" stroke-width="0.95"/>
<path d="M258.60,308.55 H256.30" stroke-width="0.95"/>
<path d="M258.60,303.45 H254.60" stroke-width="1.05"/>
<path d="M258.60,298.62 H256.30" stroke-width="0.95"/>
<path d="M258.60,294.05 H256.30" stroke-width="0.95"/>
<path d="M258.60,289.69 H256.30" stroke-width="0.95"/>
<path d="M258.60,285.54 H256.30" stroke-width="0.95"/>
<path d="M258.60,281.57 H256.30" stroke-width="0.95"/>
<path d="M258.60,277.77 H256.30" stroke-width="0.95"/>
<path d="M258.60,274.13 H256.30" stroke-width="0.95"/>
<path d="M258.60,270.63 H256.30" stroke-width="0.95"/>
<path d="M258.60,267.26 H254.60" stroke-width="1.05"/>
<path d="M258.60,264.02 H256.30" stroke-width="0.95"/>
<path d="M258.60,260.88 H256.30" stroke-width="0.95"/>
<path d="M258.60,257.86 H256.30" stroke-width="0.95"/>
<path d="M258.60,254.93 H256.30" stroke-width="0.95"/>
<path d="M258.60,252.10 H256.30" stroke-width="0.95"/>
<path d="M258.60,249.35 H256.30" stroke-width="0.95"/>
<path d="M258.60,246.69 H256.30" stroke-width="0.95"/>
<path d="M258.60,244.10 H256.30" stroke-width="0.95"/>
<path d="M258.60,241.59 H254.60" stroke-width="1.05"/>
<path d="M258.60,239.14 H256.30" stroke-width="0.95"/>
<path d="M258.60,236.76 H256.30" stroke-width="0.95"/>
<path d="M258.60,234.44 H256.30" stroke-width="0.95"/>
<path d="M258.60,232.18 H256.30" stroke-width="0.95"/>
<path d="M258.60,229.98 H256.30" stroke-width="0.95"/>
<path d="M258.60,227.83 H256.30" stroke-width="0.95"/>
<path d="M258.60,225.73 H256.30" stroke-width="0.95"/>
<path d="M258.60,223.68 H256.30" stroke-width="0.95"/>
<path d="M258.60,221.67 H254.60" stroke-width="1.05"/>
<path d="M258.60,219.71 H256.30" stroke-width="0.95"/>
<path d="M258.60,217.79 H256.30" stroke-width="0.95"/>
<path d="M258.60,215.91 H256.30" stroke-width="0.95"/>
<path d="M258.60,214.07 H256.30" stroke-width="0.95"/>
<path d="M258.60,212.27 H256.30" stroke-width="0.95"/>
<path d="M258.60,210.50 H256.30" stroke-width="0.95"/>
<path d="M258.60,208.77 H256.30" stroke-width="0.95"/>
<path d="M258.60,207.07 H256.30" stroke-width="0.95"/>
<path d="M258.60,205.40 H254.60" stroke-width="1.05"/>
<path d="M258.60,365.30 V367.50"/>
<path d="M280.10,365.30 V367.50"/>
<path d="M301.60,365.30 V369.30"/>
<path d="M323.10,365.30 V367.50"/>
<path d="M344.60,365.30 V367.50"/>
<path d="M366.10,365.30 V367.50"/>
<path d="M387.60,365.30 V369.30"/>
<path d="M409.10,365.30 V367.50"/>
<path d="M430.60,365.30 V367.50"/>
<path d="M452.10,365.30 V367.50"/>
<path d="M473.60,365.30 V369.30"/>
</g>
<g font-size="12.3px">
<text x="253.4" y="369.11" text-anchor="end">10</text>
<text x="253.4" y="307.25" text-anchor="end">20</text>
<text x="253.4" y="271.06" text-anchor="end">30</text>
<text x="253.4" y="245.39" text-anchor="end">40</text>
<text x="253.4" y="225.47" text-anchor="end">50</text>
<text x="253.4" y="209.20" text-anchor="end">60</text>
<text x="301.90" y="379.7" text-anchor="middle">160</text>
<text x="387.90" y="379.7" text-anchor="middle">200</text>
</g>
<text x="384.6" y="398.3" text-anchor="middle" font-size="16.6px">T (K)</text>
<text transform="translate(226.7,282.6) rotate(-90) scale(0.878,1)" font-size="14px"><tspan>(cm</tspan><tspan dy="-7.0" font-size="12.4px">2</tspan><tspan dy="7.0">/Vs)</tspan></text>
<rect x="414.5" y="206.5" width="60" height="81.8" fill="#fff" stroke="#999" stroke-width="1"/>
<g fill="none" stroke-width="1.7">
<path d="M419.8,219.80 H460" stroke="#000000"/>
<path d="M419.8,239.90 H460" stroke="#ff1010" stroke-dasharray="4.62 4.28"/>
<path d="M419.8,259.80 H460" stroke="#0000ff" stroke-dasharray="5.57 2.13 1.34 2.13"/>
<path d="M419.8,279.80 H460" stroke="#ff00ff" stroke-dasharray="4.28 2.14 1.34 2.14 1.34 2.18"/>
</g>
</svg></body></html>
